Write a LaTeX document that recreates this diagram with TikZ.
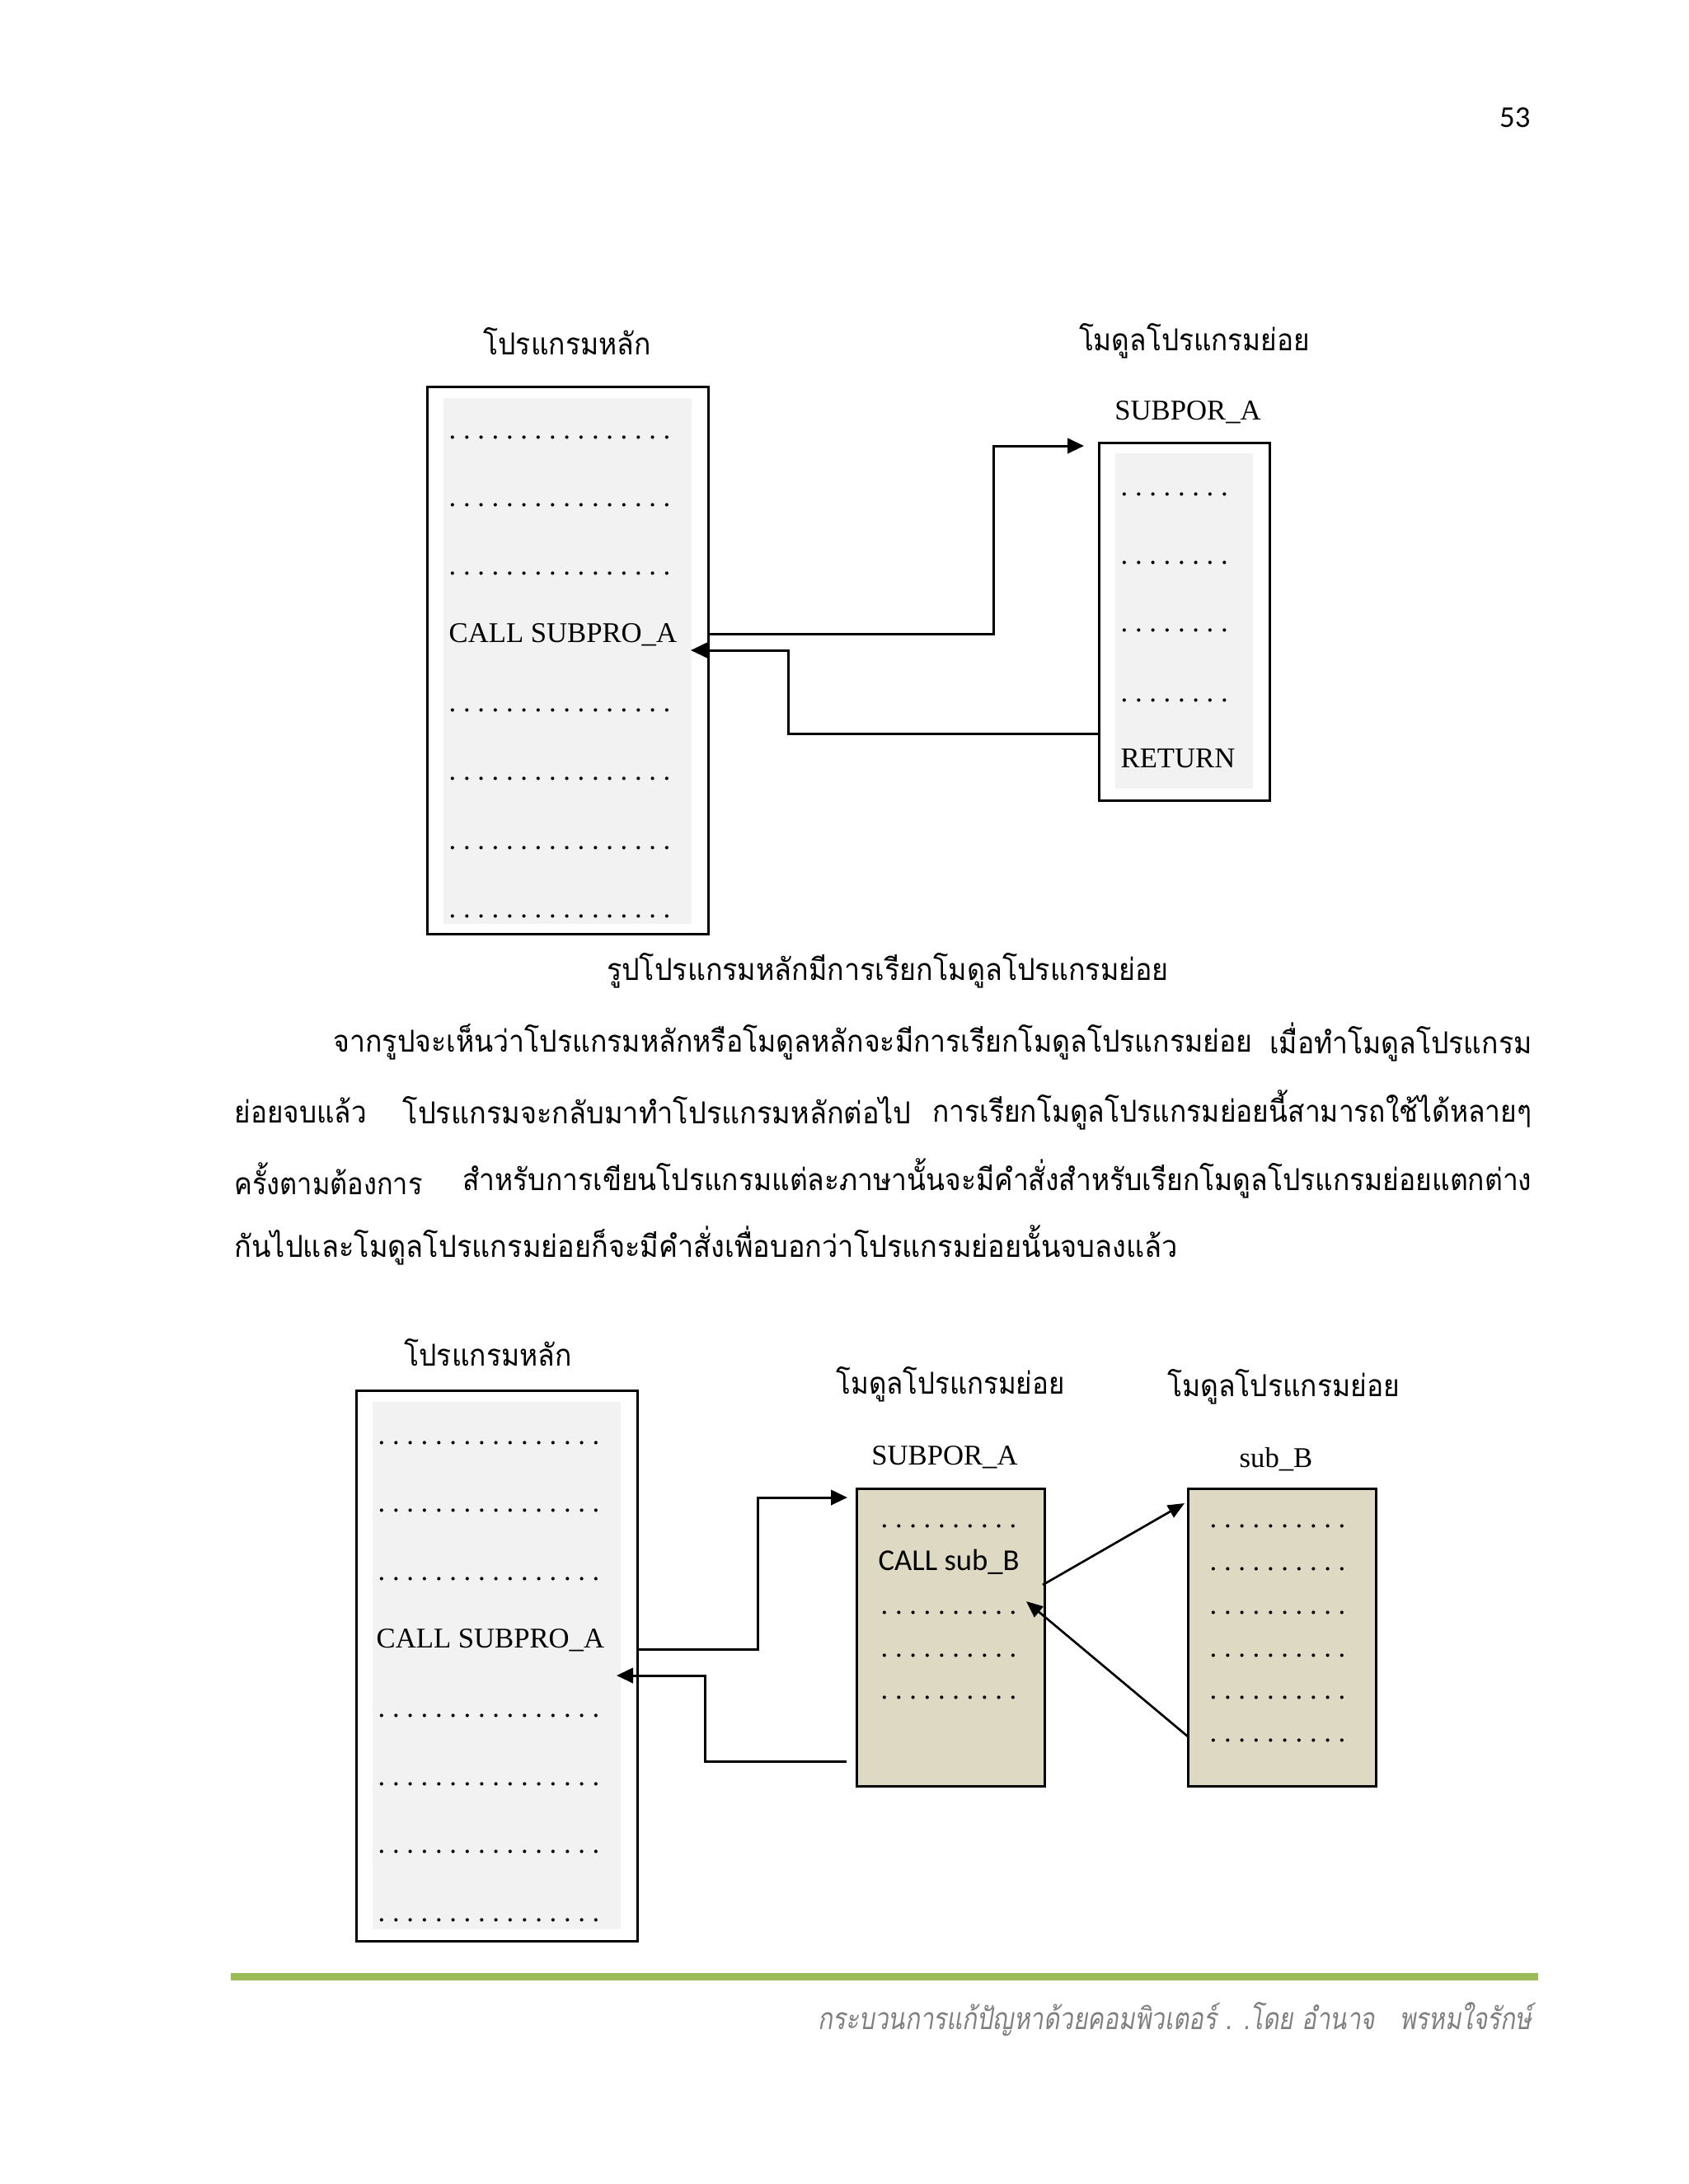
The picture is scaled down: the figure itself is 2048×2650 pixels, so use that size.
\documentclass[tikz,border=0pt]{standalone}
\usepackage{fontspec}
\setmainfont{Liberation Serif}
\newfontfamily\thai[Script=Thai]{Loma}
\newfontfamily\thaislant[Script=Thai,FakeSlant=0.2]{Loma}
\newfontfamily\cali{Carlito}
\usepackage{xcolor}
\usepackage{graphicx}
\usetikzlibrary{positioning,arrows.meta}

\newlength\px
\setlength\px{0.10542mm}
\definecolor{panelgray}{HTML}{F2F2F2}
\definecolor{tan}{HTML}{DDD9C3}
\definecolor{leaf}{HTML}{9BBB59}
\definecolor{footgray}{HTML}{7F7F7F}
\newcommand\dotrow[1]{\foreach\k in {1,...,#1}{.\ }}
\newcommand\thsize{\fontsize{11pt}{13pt}\selectfont}
% squeeze a Thai run to the width it has on the page
\newcommand\fitw[2]{\resizebox{#1\px}{\height}{#2}}

\begin{document}
\begin{tikzpicture}[x=\px, y=-\px,
  code/.style={font=\fontsize{10.4pt}{12pt}\selectfont, anchor=base west, inner sep=0pt},
  head/.style={font=\fontsize{10.4pt}{12pt}\selectfont, inner sep=0pt},
  thaitext/.style={font=\thai\thsize, inner sep=0pt},
  outer/.style={draw, line width=0.8pt, anchor=north west, inner sep=0pt},
  panel/.style={fill=panelgray, anchor=north west, inner sep=0pt},
  arr/.style={-{Triangle[length=6pt,width=5.5pt]}, line width=0.9pt},
  slim arr/.style={-{Triangle[length=6pt,width=5pt]}, line width=0.8pt}]
  \useasboundingbox (0,0) rectangle (2048,2650);
  \node[font=\cali\fontsize{11pt}{13pt}\selectfont, anchor=east, inner sep=0pt] (page) at (1857,143) {53};

  % first picture
  \node[thaitext] (mainAtitle) at (688,414) {\fitw{203}{โปรแกรมหลัก}};
  \node[thaitext] (subAtitle) at (1449,414) {\fitw{280}{โมดูลโปรแกรมย่อย}};
  \node[head] (subAname) at (1441,500) {SUBPOR\_A};
  \node[outer, minimum width=341\px, minimum height=664\px] (mainA) at (517,468) {};
  \node[panel, minimum width=301\px, minimum height=638\px] (mainApanel) at (537,482) {};
  \foreach \y in {532,614,697,863,946,1030,1113}
    \node[code] (dotA\y) at (544,\y) {\dotrow{16}};
  \node[code] (callA) at (544,779) {CALL SUBPRO\_A};
  \node[outer, minimum width=207\px, minimum height=434\px] (subA) at (1332,536) {};
  \node[panel, minimum width=167\px, minimum height=407\px] (subApanel) at (1352,549) {};
  \foreach \y in {601,684,766,851}
    \node[code] (dotS\y) at (1359,\y) {\dotrow{8}};
  \node[code] (retA) at (1359,931) {RETURN};
  \coordinate (inA) at (1315,541);
  \coordinate (backA) at (1332,890);
  \coordinate (tipA) at (838,789);
  \draw[arr] (mainA.east |- callA) -| (1205,541) -- (inA);
  \draw[arr] (backA) -| (956,789) -- (tipA);
  \node[thaitext] (capA) at (1077,1178) {\fitw{682}{รูปโปรแกรมหลักมีการเรียกโมดูลโปรแกรมย่อย}};

  % paragraph
  \node[thaitext, anchor=west] (l1a) at (404,1264) {\fitw{1115}{จากรูปจะเห็นว่าโปรแกรมหลักหรือโมดูลหลักจะมีการเรียกโมดูลโปรแกรมย่อย}};
  \node[thaitext, anchor=east] (l1b) at (1859,1264) {\fitw{318}{เมื่อทำโมดูลโปรแกรม}};
  \node[thaitext, anchor=west] (l2a) at (284,1347) {\fitw{160}{ย่อยจบแล้ว}};
  \node[thaitext, anchor=west] (l2b) at (488,1347) {\fitw{617}{โปรแกรมจะกลับมาทำโปรแกรมหลักต่อไป}};
  \node[thaitext, anchor=east] (l2c) at (1859,1347) {\fitw{727}{การเรียกโมดูลโปรแกรมย่อยนี้สามารถใช้ได้หลายๆ}};
  \node[thaitext, anchor=west] (l3a) at (284,1430) {\fitw{228}{ครั้งตามต้องการ}};
  \node[thaitext, anchor=east] (l3b) at (1859,1430) {\fitw{1297}{สำหรับการเขียนโปรแกรมแต่ละภาษานั้นจะมีคำสั่งสำหรับเรียกโมดูลโปรแกรมย่อยแตกต่าง}};
  \node[thaitext, anchor=west] (l4a) at (284,1511) {\fitw{1144}{กันไปและโมดูลโปรแกรมย่อยก็จะมีคำสั่งเพื่อบอกว่าโปรแกรมย่อยนั้นจบลงแล้ว}};

  % second picture
  \node[thaitext] (mainBtitle) at (592,1641) {\fitw{203}{โปรแกรมหลัก}};
  \node[thaitext] (subBtitle) at (1153,1680) {\fitw{277}{โมดูลโปรแกรมย่อย}};
  \node[thaitext] (subCtitle) at (1557,1683) {\fitw{282}{โมดูลโปรแกรมย่อย}};
  \node[head] (subBname) at (1146,1768) {SUBPOR\_A};
  \node[head] (subCname) at (1548,1771) {sub\_B};
  \node[outer, minimum width=341\px, minimum height=668\px] (mainB) at (431,1686) {};
  \node[panel, minimum width=301\px, minimum height=640\px] (mainBpanel) at (451,1700) {};
  \foreach \y in {1752,1834,1917,2083,2166,2248,2331}
    \node[code] (dotB\y) at (458,\y) {\dotrow{16}};
  \node[code] (callB) at (456,1999) {CALL SUBPRO\_A};
  \node[outer, fill=tan, minimum width=228\px, minimum height=361\px] (subB) at (1038,1805) {};
  \foreach \y in {1853,1958,2010,2061}
    \node[code] (dotT\y) at (1068,\y) {\dotrow{10}};
  \node[code, font=\cali\fontsize{11pt}{12pt}\selectfont] (callC) at (1065,1905) {CALL sub\_B};
  \node[outer, fill=tan, minimum width=228\px, minimum height=361\px] (subC) at (1440,1805) {};
  \foreach \y in {1853,1905,1958,2010,2061,2113}
    \node[code] (dotU\y) at (1467,\y) {\dotrow{10}};
  \coordinate (inB) at (1028,1817);
  \coordinate (backB) at (1027,2137);
  \coordinate (tipB) at (748,2033);
  \coordinate (outC) at (1265,1923);
  \coordinate (inC) at (1437,1824);
  \coordinate (backC) at (1441,2107);
  \coordinate (tipC) at (1245,1943);
  \draw[arr] (mainB.east |- 0,2001) -| (919,1817) -- (inB);
  \draw[arr] (backB) -| (855,2033) -- (tipB);
  \draw[slim arr] (outC) -- (inC);
  \draw[slim arr] (backC) -- (tipC);

  % footer
  \draw[leaf, line width=9\px] (280,2398) -- (1866,2398);
  \node[font=\thaislant\fontsize{11pt}{13pt}\selectfont, text=footgray, anchor=east, inner sep=0pt] (foot) at (1859,2450) {\fitw{866}{กระบวนการแก้ปัญหาด้วยคอมพิวเตอร์ . .โดย อำนาจ \ \ พรหมใจรักษ์}};
\end{tikzpicture}
\end{document}
